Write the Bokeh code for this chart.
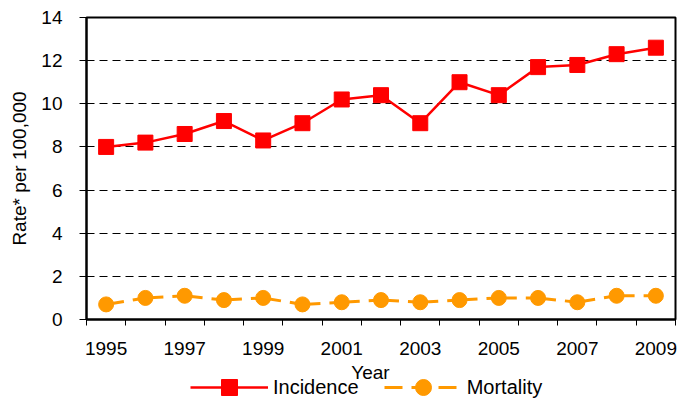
from bokeh.plotting import figure
from bokeh.layouts import column
from bokeh.models import FixedTicker, Legend, LegendItem, Range1d, Label
from bokeh.embed import file_html
from bokeh.resources import INLINE

years = list(range(1995, 2010))
incidence = [8.0, 8.2, 8.6, 9.2, 8.3, 9.1, 10.2, 10.4, 9.1, 11.0, 10.4, 11.7, 11.8, 12.3, 12.6]
mortality = [0.7, 1.0, 1.1, 0.9, 1.0, 0.7, 0.8, 0.9, 0.8, 0.9, 1.0, 1.0, 0.8, 1.1, 1.1]
year_labels = [1995, 1997, 1999, 2001, 2003, 2005, 2007, 2009]
y_ticks = [0, 2, 4, 6, 8, 10, 12, 14]

FONT = "Liberation Sans"
RED = "#FF0000"
ORANGE = "#FF9900"
DASH = "18 9"

p = figure(width=694, height=361, output_backend="svg", toolbar_location=None,
           x_range=Range1d(years[0] - 0.5, years[-1] + 0.5),
           y_range=Range1d(y_ticks[0], y_ticks[-1]),
           min_border_left=86, min_border_right=19, min_border_top=17, min_border_bottom=42)

p.outline_line_color = "black"
p.outline_line_width = 2
p.background_fill_color = "white"
p.border_fill_color = "white"

# x axis: labels on every other category, tick marks at category boundaries
boundaries = [y - 0.5 for y in years] + [years[-1] + 0.5]
p.xaxis.ticker = FixedTicker(ticks=year_labels, minor_ticks=boundaries)
p.xaxis.major_tick_line_color = None
p.xaxis.major_tick_out = 5
p.xaxis.major_tick_in = 0
p.xaxis.minor_tick_line_color = "black"
p.xaxis.minor_tick_out = 6
p.xaxis.minor_tick_in = 0
p.xaxis.minor_tick_line_width = 1
p.xaxis.major_label_standoff = 16

p.yaxis.ticker = FixedTicker(ticks=y_ticks, minor_ticks=[])
p.yaxis.major_tick_out = 7
p.yaxis.major_tick_in = 0
p.yaxis.major_label_standoff = 17
p.yaxis.axis_label = "Rate* per 100,000"
p.yaxis.axis_label_standoff = 8

for ax in (p.xaxis, p.yaxis):
    ax.axis_line_color = "black"
    ax.axis_line_width = 2
    ax.major_label_text_font = FONT
    ax.major_label_text_font_size = "19px"
    ax.major_label_text_color = "black"
    ax.axis_label_text_font = FONT
    ax.axis_label_text_font_size = "19px"
    ax.axis_label_text_font_style = "normal"
    ax.axis_label_text_color = "black"

p.xgrid.grid_line_color = None
p.ygrid.grid_line_color = "black"
p.ygrid.grid_line_dash = "8 5"
p.ygrid.grid_line_width = 1

p.line(years, incidence, line_color=RED, line_width=2.5)
p.scatter(years, incidence, marker="square", size=15, fill_color=RED, line_color=RED)
# dashed mortality line, dash pattern restarting at every point
p.segment(x0=years[:-1], y0=mortality[:-1], x1=years[1:], y1=mortality[1:],
          line_color=ORANGE, line_width=3, line_dash=DASH)
p.scatter(years, mortality, marker="circle", size=15, fill_color=ORANGE, line_color=ORANGE)

# strip below the chart: x-axis title and legend
# (its renderers lie outside its own visible range, so only the legend shows them)
lg = figure(width=694, height=40, output_backend="svg", toolbar_location=None,
            x_range=Range1d(0, 1), y_range=Range1d(0, 1),
            min_border_left=0, min_border_right=0, min_border_top=0, min_border_bottom=0)
lg.axis.visible = False
lg.grid.grid_line_color = None
lg.outline_line_color = None
lg.background_fill_color = "white"
lg.border_fill_color = "white"

lg.add_layout(Label(x=284, y=29, x_units="screen", y_units="screen", text="Year",
                    text_align="center", text_baseline="middle",
                    text_font=FONT, text_font_size="19px", text_color="black"))

l1 = lg.line(years, incidence, line_color=RED, line_width=2.5)
s1 = lg.scatter(years, incidence, marker="square", size=15, fill_color=RED, line_color=RED)
l2 = lg.line(years, mortality, line_color=ORANGE, line_width=3, line_dash=DASH)
s2 = lg.scatter(years, mortality, marker="circle", size=15, fill_color=ORANGE, line_color=ORANGE)

legend = Legend(items=[LegendItem(label="Incidence", renderers=[l1, s1]),
                       LegendItem(label="Mortality", renderers=[l2, s2])],
                location=(104, -6), orientation="horizontal",
                glyph_width=78, glyph_height=40, label_height=18,
                padding=0, spacing=25, label_standoff=5, margin=0,
                border_line_color=None, background_fill_alpha=0,
                label_text_font=FONT, label_text_font_size="20px",
                label_text_color="black")
lg.add_layout(legend)

layout = column(p, lg, spacing=0)
open("out.html", "w").write(file_html(layout, INLINE))
